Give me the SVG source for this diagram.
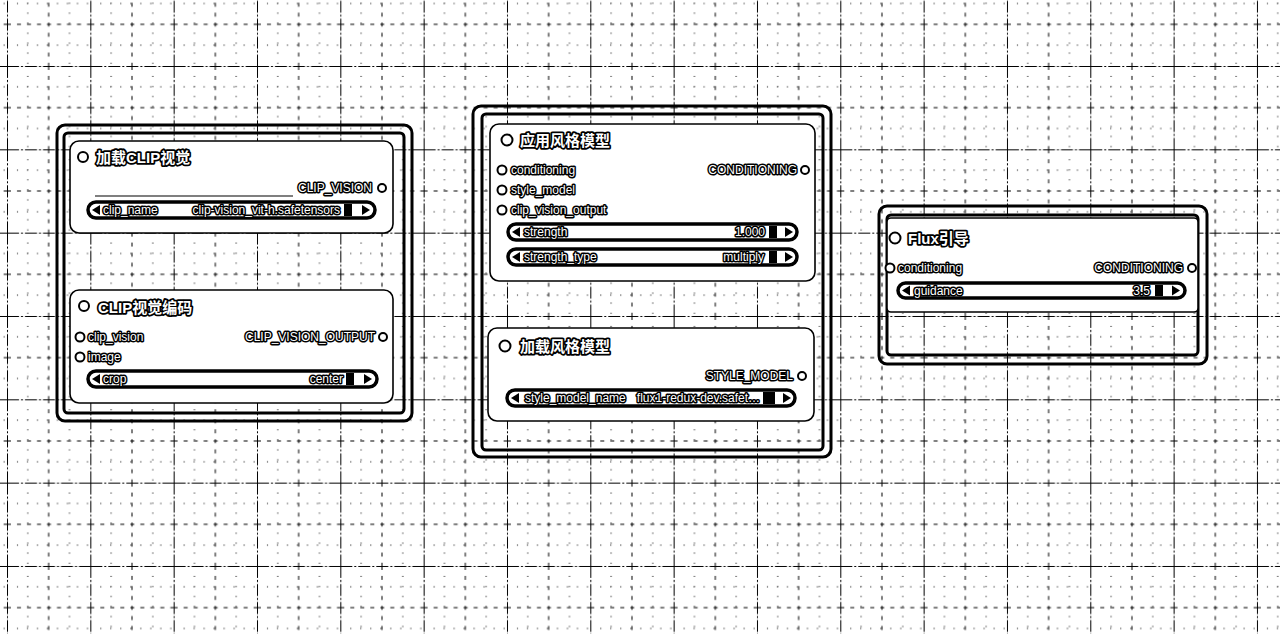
<svg xmlns="http://www.w3.org/2000/svg" width="1280" height="634" viewBox="0 0 1280 634">
<defs>
<style>
.frame{fill:none;stroke:#000;stroke-width:3}
.node{fill:#fff;stroke:#000;stroke-width:1.6}
.t{font-family:"Liberation Sans","Noto Sans CJK SC",sans-serif;fill:#fff;stroke:#000;stroke-linejoin:round;paint-order:stroke}
.title{font-size:15px;font-weight:bold;stroke-width:3.5}
.slot{font-size:12px;stroke-width:3}
.wv{font-size:12px;stroke-width:3}
.dot{fill:#fff;stroke:#000;stroke-width:2}
.pill{fill:#fff;stroke:#000;stroke-width:3.5}
.blk{fill:#000}
.gl{stroke:#000;stroke-width:1;fill:none}
</style>
<pattern id="grid" patternUnits="userSpaceOnUse" x="7" y="66" width="83.33" height="83.33">
<path class="gl" d="M0.5 0V83.33M0 0.5H83.33" stroke-dasharray="12 2 2 2"/>
<path class="gl" d="M41.67 0V83.33M0 41.67H83.33" stroke-dasharray="4 6"/>
<path class="gl" d="M20.8 0V83.33M62.5 0V83.33M0 20.8H83.33M0 62.5H83.33" stroke-dasharray="1 9"/>
</pattern>
</defs>
<rect width="1280" height="634" fill="#fff"/>
<rect width="1280" height="634" fill="url(#grid)"/>

<g id="connectors"></g>

<g id="group-clip">
<rect class="frame" x="57" y="125" width="355" height="296" rx="8"/>
<rect class="frame" x="64" y="133" width="340" height="280" rx="4"/>
</g>

<g id="node-load-clip-vision">
<rect class="node" x="70" y="141" width="323" height="92" rx="9"/>
<circle class="dot" cx="83" cy="157" r="5"/>
<text class="t title" x="96" y="163">加载CLIP视觉</text>
<line x1="95" y1="196" x2="293" y2="196" stroke="#000" stroke-width="1.2"/>
<text class="t slot" x="372" y="192" text-anchor="end">CLIP_VISION</text>
<circle class="dot" cx="382" cy="188" r="4"/>
<rect class="pill" x="88" y="202" width="287" height="16" rx="8"/>
<polygon class="blk" points="92,210 100,205 100,215"/>
<text class="t wv" x="103" y="214">clip_name</text>
<text class="t wv" x="340" y="214" text-anchor="end">clip-vision_vit-h.safetensors</text>
<rect class="blk" x="344" y="204" width="8" height="12"/>
<polygon class="blk" points="370,210 362,205 362,215"/>
</g>

<g id="node-clip-vision-encode">
<rect class="node" x="70" y="290" width="323" height="113" rx="9"/>
<circle class="dot" cx="84" cy="306" r="5"/>
<text class="t title" x="98" y="313">CLIP视觉编码</text>
<circle class="dot" cx="80" cy="337" r="4.5"/>
<text class="t slot" x="88" y="341">clip_vision</text>
<circle class="dot" cx="80" cy="357" r="4.5"/>
<text class="t slot" x="88" y="361">image</text>
<text class="t slot" x="375" y="341" text-anchor="end">CLIP_VISION_OUTPUT</text>
<circle class="dot" cx="383" cy="337" r="4"/>
<rect class="pill" x="88" y="371" width="289" height="16" rx="8"/>
<polygon class="blk" points="92,379 100,374 100,384"/>
<text class="t wv" x="103" y="383">crop</text>
<text class="t wv" x="343" y="383" text-anchor="end">center</text>
<rect class="blk" x="346" y="373" width="8" height="12"/>
<polygon class="blk" points="372,379 364,374 364,384"/>
</g>

<g id="group-style">
<rect class="frame" x="473" y="106" width="358" height="351" rx="8"/>
<rect class="frame" x="482" y="114" width="341" height="336" rx="4"/>
</g>

<g id="node-apply-style-model">
<rect class="node" x="490" y="124" width="325" height="157" rx="9"/>
<circle class="dot" cx="507" cy="140" r="5.5"/>
<text class="t title" x="520" y="146">应用风格模型</text>
<circle class="dot" cx="502" cy="170" r="4.5"/>
<text class="t slot" x="511" y="174">conditioning</text>
<circle class="dot" cx="502" cy="190" r="4.5"/>
<text class="t slot" x="511" y="194">style_model</text>
<circle class="dot" cx="502" cy="210" r="4.5"/>
<text class="t slot" x="511" y="214">clip_vision_output</text>
<text class="t slot" x="797" y="174" text-anchor="end">CONDITIONING</text>
<circle class="dot" cx="805" cy="170" r="4"/>
<rect class="pill" x="508" y="224" width="289" height="16" rx="8"/>
<polygon class="blk" points="512,232 520,227 520,237"/>
<text class="t wv" x="524" y="236">strength</text>
<text class="t wv" x="765" y="236" text-anchor="end">1.000</text>
<rect class="blk" x="769" y="226" width="8" height="12"/>
<polygon class="blk" points="793,232 785,227 785,237"/>
<rect class="pill" x="508" y="249" width="289" height="16" rx="8"/>
<polygon class="blk" points="512,257 520,252 520,262"/>
<text class="t wv" x="524" y="261">strength_type</text>
<text class="t wv" x="764" y="261" text-anchor="end">multiply</text>
<rect class="blk" x="769" y="251" width="8" height="12"/>
<polygon class="blk" points="793,257 785,252 785,262"/>
</g>

<g id="node-load-style-model">
<rect class="node" x="488" y="328" width="326" height="93" rx="9"/>
<circle class="dot" cx="505" cy="346" r="5.5"/>
<text class="t title" x="520" y="352">加载风格模型</text>
<text class="t slot" x="793" y="380" text-anchor="end">STYLE_MODEL</text>
<circle class="dot" cx="802" cy="376" r="4"/>
<rect class="pill" x="507" y="390" width="288" height="16" rx="8"/>
<polygon class="blk" points="511,398 519,393 519,403"/>
<text class="t wv" x="525" y="402">style_model_name</text>
<text class="t wv" x="760" y="402" text-anchor="end">flux1-redux-dev.safet…</text>
<rect class="blk" x="763" y="392" width="12" height="12"/>
<polygon class="blk" points="791,398 783,393 783,403"/>
</g>

<g id="group-flux">
<rect class="frame" x="879" y="206" width="328" height="158" rx="8"/>
<rect class="frame" x="887" y="215" width="311" height="140" rx="4"/>
</g>

<g id="node-flux-guidance">
<rect class="node" x="887" y="218" width="311" height="94" rx="4"/>
<circle class="dot" cx="895" cy="238" r="5.5"/>
<text class="t title" x="908" y="244">Flux引导</text>
<circle class="dot" cx="890" cy="268" r="4.5"/>
<text class="t slot" x="898" y="272">conditioning</text>
<text class="t slot" x="1183" y="272" text-anchor="end">CONDITIONING</text>
<circle class="dot" cx="1192" cy="268" r="4"/>
<rect class="pill" x="898" y="283" width="287" height="15" rx="7.5"/>
<polygon class="blk" points="902,290.5 910,285.5 910,295.5"/>
<text class="t wv" x="914" y="295">guidance</text>
<text class="t wv" x="1150" y="295" text-anchor="end">3.5</text>
<rect class="blk" x="1155" y="285" width="8" height="11"/>
<polygon class="blk" points="1180,290.5 1172,285.5 1172,295.5"/>
</g>
</svg>
